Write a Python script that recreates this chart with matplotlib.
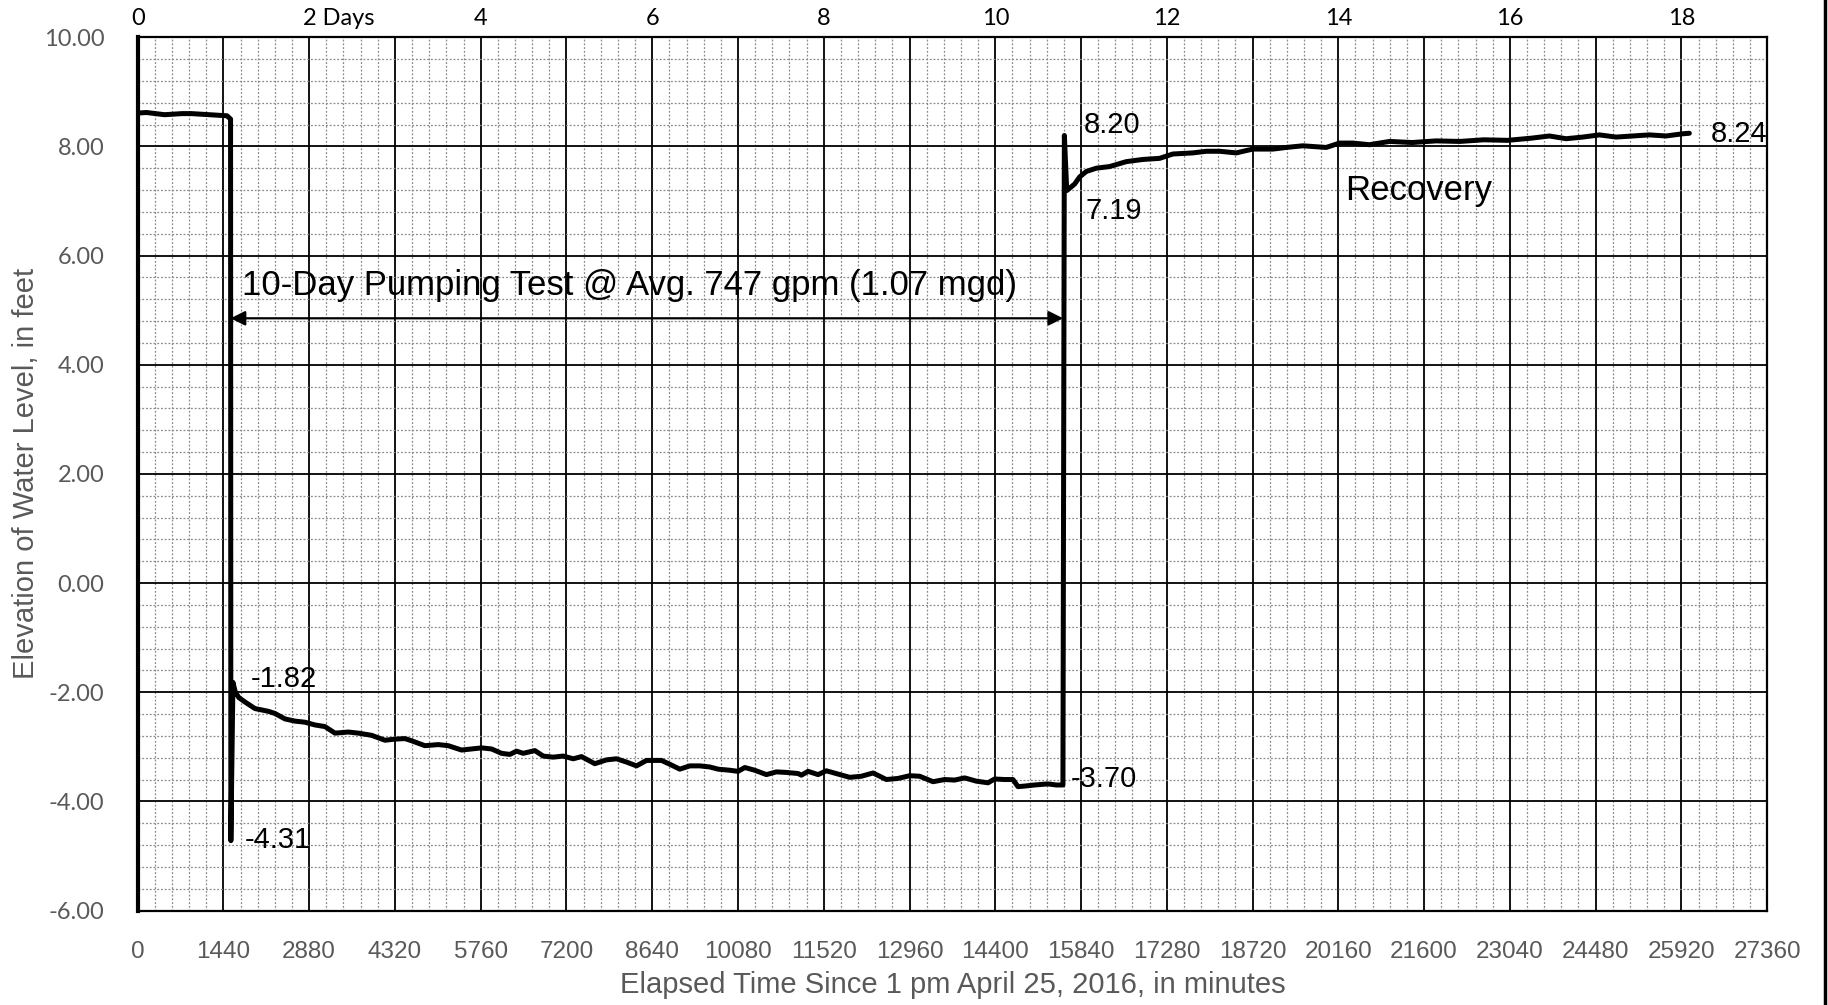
import matplotlib.pyplot as plt
from matplotlib.lines import Line2D
from matplotlib.ticker import MultipleLocator, FormatStrFormatter
import matplotlib.transforms as mtransforms

# Water level before pumping (elapsed minutes, ft)
static_min = [0, 150, 300, 450, 600, 750, 900, 1050, 1200, 1350, 1500, 1560]
static_ft = [8.61, 8.62, 8.60, 8.58, 8.59, 8.60, 8.60, 8.59, 8.58, 8.57, 8.56, 8.50]

# Drawdown during the 10-day pumping test
pumping_min = [1565, 1570, 1600, 1640, 1700, 1803, 1970, 2194, 2306, 2474, 2642,
               2810, 2977, 3145, 3313, 3537, 3705, 3928, 4152, 4320, 4488, 4600,
               4823, 5047, 5215, 5439, 5607, 5774, 5942, 6110, 6250, 6362, 6474,
               6670, 6809, 6977, 7145, 7313, 7453, 7676, 7872, 8040, 8208, 8376,
               8544, 8655, 8795, 8935, 9103, 9271, 9439, 9606, 9746, 9942, 10082,
               10194, 10362, 10557, 10725, 10893, 11089, 11145, 11257, 11425, 11564,
               11760, 11956, 12152, 12348, 12571, 12767, 12963, 13131, 13355, 13550,
               13718, 13886, 14082, 14278, 14389, 14557, 14697, 14781, 14893, 15061,
               15285, 15424, 15536]
pumping_ft = [-4.72, -4.31, -1.82, -2.00, -2.10, -2.18, -2.30, -2.35, -2.39, -2.49, -2.53,
              -2.55, -2.60, -2.63, -2.75, -2.73, -2.75, -2.79, -2.88, -2.86, -2.85, -2.89,
              -2.98, -2.96, -2.98, -3.06, -3.04, -3.02, -3.04, -3.12, -3.14, -3.08, -3.12,
              -3.07, -3.17, -3.19, -3.17, -3.22, -3.18, -3.31, -3.24, -3.22, -3.28, -3.35,
              -3.25, -3.25, -3.25, -3.32, -3.41, -3.35, -3.35, -3.37, -3.41, -3.43, -3.45,
              -3.38, -3.43, -3.51, -3.46, -3.47, -3.49, -3.52, -3.45, -3.51, -3.44,
              -3.50, -3.56, -3.54, -3.48, -3.60, -3.58, -3.53, -3.54, -3.64, -3.60,
              -3.61, -3.57, -3.63, -3.66, -3.59, -3.60, -3.60, -3.73, -3.72, -3.70,
              -3.68, -3.70, -3.70]

# Recovery after the pump was shut off
recovery_min = [15560, 15600, 15733, 15817, 15929, 16097, 16320, 16600, 16879, 17159,
                17383, 17718, 17942, 18166, 18446, 18725, 19061, 19285, 19564, 19956,
                20180, 20403, 20683, 21019, 21400, 21800, 22200, 22600, 23000, 23400,
                23704, 23984, 24264, 24543, 24823, 25103, 25382, 25662, 25942, 26054]
recovery_ft = [8.20, 7.19, 7.31, 7.44, 7.54, 7.60, 7.63, 7.72, 7.76, 7.78,
               7.86, 7.88, 7.91, 7.91, 7.88, 7.95, 7.95, 7.98, 8.01, 7.98,
               8.06, 8.06, 8.03, 8.09, 8.07, 8.10, 8.09, 8.12, 8.11, 8.15,
               8.19, 8.14, 8.17, 8.21, 8.17, 8.19, 8.21, 8.19, 8.23, 8.24]

day_ticks = [0, 2, 4, 6, 8, 10, 12, 14, 16, 18]

t = static_min + pumping_min + recovery_min
h = static_ft + pumping_ft + recovery_ft

fig = plt.figure(figsize=(18.28, 10.05), dpi=100)
ax = fig.add_axes([0.0753, 0.094, 0.8914, 0.869])

ax.plot(t, h, color='black', lw=3.6, solid_joinstyle='round', solid_capstyle='round', zorder=5)

ax.set_xlim(0, 27360)
ax.set_ylim(-6, 10)
ax.xaxis.set_major_locator(MultipleLocator(1440))
ax.xaxis.set_minor_locator(MultipleLocator(288))
ax.yaxis.set_major_locator(MultipleLocator(2))
ax.yaxis.set_minor_locator(MultipleLocator(0.4))
ax.yaxis.set_major_formatter(FormatStrFormatter('%.2f'))
ax.set_axisbelow(True)
ax.grid(which='major', color='black', lw=1.3)
ax.grid(which='minor', color='#8a8a8a', lw=0.9, ls=(0, (1.5, 1.5)))
ax.tick_params(which='both', length=0)
ax.tick_params(axis='x', pad=22, labelsize=17.5, labelcolor='#595959')
ax.tick_params(axis='y', pad=24, labelsize=17, labelcolor='#595959')
for lab in ax.get_xticklabels():
    lab.set_family('Liberation Sans')
for lab in ax.get_yticklabels():
    lab.set_family('Lato')

for side in ['top', 'right', 'bottom']:
    ax.spines[side].set_linewidth(1.6)
ax.spines['left'].set_linewidth(3)

ax.set_xlabel('Elapsed Time Since 1 pm April 25, 2016, in minutes', fontsize=21,
              color='#595959', family='Liberation Sans', labelpad=6)
ax.set_ylabel('Elevation of Water Level, in feet', fontsize=21, color='#595959',
              family='Liberation Sans')
ax.yaxis.set_label_coords(-0.060, 0.5)

# day scale along the top
top = mtransforms.blended_transform_factory(ax.transData, ax.transAxes)
for d in day_ticks:
    if d == 2:
        ax.text(d * 1440 - 110, 1.021, '2 Days', transform=top, ha='left', va='center',
                fontsize=17, family='Lato', color='black')
    else:
        ax.text(d * 1440, 1.021, str(d), transform=top, ha='center', va='center',
                fontsize=17, family='Lato', color='black')

# pumping period arrow and notes
ax.annotate('', xy=(15540, 4.85), xytext=(1560, 4.85),
            arrowprops=dict(arrowstyle='<|-|>', color='black', lw=1.6,
                            mutation_scale=22, shrinkA=0, shrinkB=0))
ax.text(1750, 5.45, '10-Day Pumping Test @ Avg. 747 gpm (1.07 mgd)', fontsize=25,
        family='Liberation Sans', ha='left', va='center')
ax.text(20270, 7.20, 'Recovery', fontsize=25, family='Liberation Sans', ha='left', va='center')

notes = [(1900, -1.75, '-1.82'), (1790, -4.70, '-4.31'), (15660, -3.59, '-3.70'),
         (15890, 8.40, '8.20'), (15910, 6.82, '7.19'), (26420, 8.23, '8.24')]
for x, y, s in notes:
    ax.text(x, y, s, fontsize=21, family='Liberation Sans', ha='left', va='center')

# chart frame edge on the right
fig.add_artist(Line2D([0.9986, 0.9986], [0, 1], transform=fig.transFigure, color='black', lw=2.5))

fig.savefig('out.png', dpi=100)
